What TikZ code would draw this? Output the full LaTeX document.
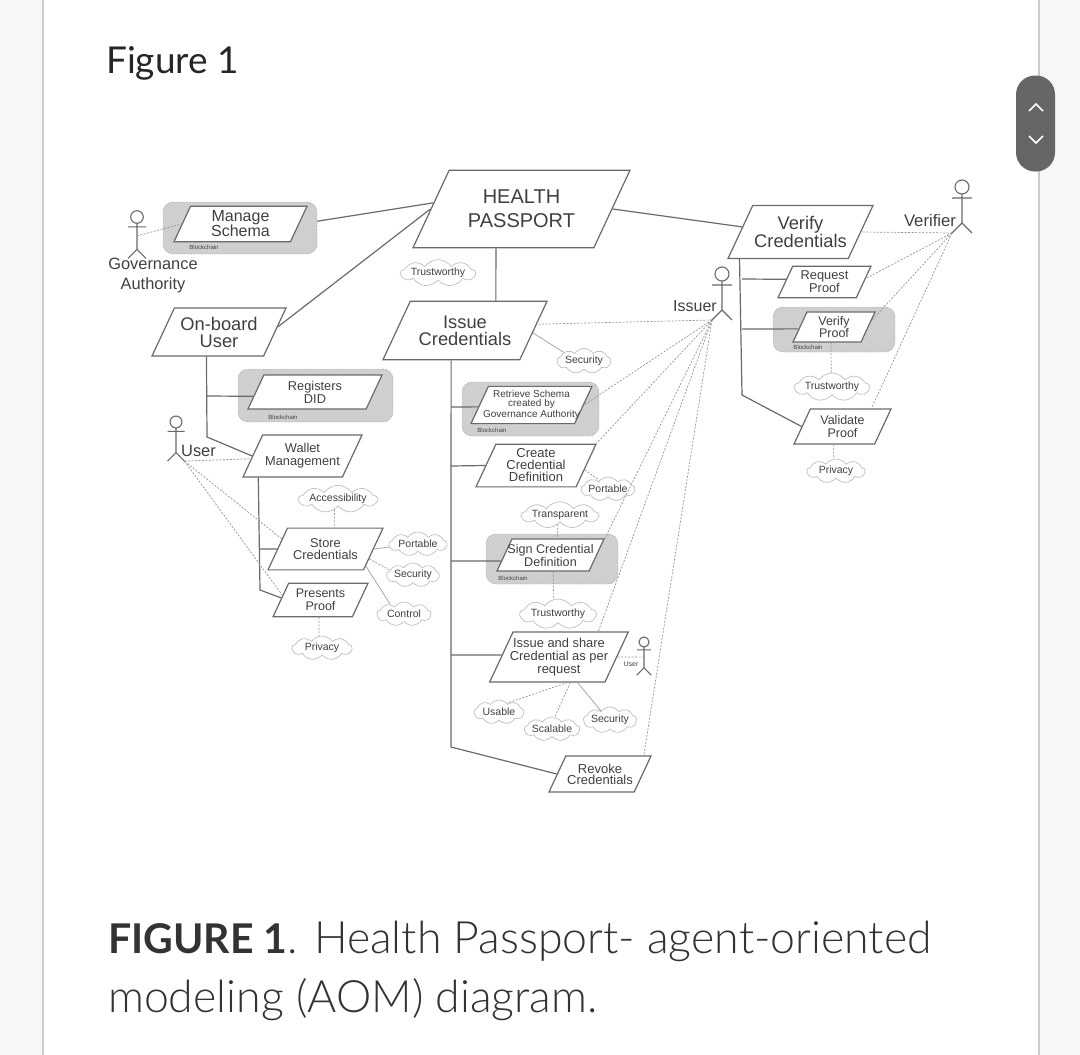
\documentclass[tikz,border=0pt]{standalone}
\usepackage{fontspec}
\usepackage{xcolor}
\usepackage{tikz}
\usetikzlibrary{positioning,shapes.geometric,shapes.symbols}
\setmainfont{Liberation Sans}
\newfontfamily\chromefont{Lato}
\newfontfamily\chromelight{Lato Light}
\definecolor{inkgray}{HTML}{404040}
\definecolor{linegray}{HTML}{6A6A6A}
\definecolor{chaingray}{HTML}{CFCFCF}
\definecolor{sidegray}{HTML}{F7F7F7}
\definecolor{pillgray}{HTML}{666666}
\newcommand{\fs}[2]{\fontsize{#1}{#2}\selectfont}

\begin{document}
\begin{tikzpicture}[
  x=1pt, y=-1pt,
  parabox/.style={draw=linegray, line width=1.2pt, fill=white, text=inkgray, trapezium,
                  trapezium left angle=65, trapezium right angle=115,
                  trapezium stretches body, inner sep=0pt, align=center, font=\fs{12.8}{13}},
  parabig/.style={parabox, font=\fs{18.3}{17}},
  chainbox/.style={draw=linegray, densely dotted, fill=chaingray, rounded corners=10pt},
  chainlabel/.style={inner sep=0pt, text=inkgray, font=\fs{6}{7}},
  softgoal/.style={draw=gray!50, line width=.7pt, fill=white, text=inkgray, cloud, cloud puffs=9,
                   cloud puff arc=110, cloud ignores aspect, inner sep=0pt, font=\fs{10.5}{11}},
  actorname/.style={inner sep=0pt, text=inkgray, align=center, font=\fs{16.4}{20}},
  solidline/.style={draw=linegray, line width=1.2pt},
  thinline/.style={draw=gray!70, line width=.8pt},
  dashline/.style={draw=gray!85, line width=.7pt, dash pattern=on 2pt off 1.5pt},
  actor/.pic={
    \draw[linegray, line width=1.1pt] (0,0) circle (7);
    \draw[linegray, line width=1.1pt] (0,7) -- (0,36) (-10,11) -- (10,11) (-10,46) -- (0,36) -- (10,46);
    \coordinate (-body) at (0,21);
    \coordinate (-lfoot) at (-10,46);
    \coordinate (-rfoot) at (10,46);
  }
]
\useasboundingbox (0,0) rectangle (1080,1055);
\fill[sidegray] (0,0) rectangle (43,1055);
\fill[sidegray] (1039,0) rectangle (1080,1055);
\draw[gray!40, line width=1.6pt] (43,0) -- (43,1055);
\draw[gray!40, line width=1.6pt] (1039,0) -- (1039,1055);

\node[inner sep=0pt, anchor=base west, text=black!85, font=\chromefont\fs{37}{40}] (title) at (106,73) {Figure 1};
\node[inner sep=0pt, anchor=base west, text=black!80, font=\chromelight\fs{44.6}{59}, align=left] (caption) at (108,1012)
  {{\chromefont\bfseries\fontsize{41}{59}\selectfont FIGURE 1}. Health Passport- agent-oriented\\modeling (AOM) diagram.};

\node[fill=pillgray, draw=none, rounded corners=19pt, minimum width=39pt, minimum height=96pt, inner sep=0pt] (pager) at (1035.5,123.5) {};
\draw[white, line width=1.6pt] (1029,111) -- (1036,104) -- (1043,111);
\draw[white, line width=1.6pt] (1029,136) -- (1036,143) -- (1043,136);

% blockchain panels
\node[chainbox, minimum width=154pt, minimum height=52pt] (manageBC) at (240,228) {};
\node[chainbox, minimum width=155pt, minimum height=53pt] (registersBC) at (315.5,395.5) {};
\node[chainbox, minimum width=137pt, minimum height=54pt] (retrieveBC) at (530.5,409) {};
\node[chainbox, minimum width=132pt, minimum height=50pt] (signBC) at (552,559) {};
\node[chainbox, minimum width=122pt, minimum height=45pt] (verproofBC) at (834,329.5) {};
\node[chainlabel] (manageTag) at (204,247.5) {Blockchain};
\node[chainlabel] (registersTag) at (283,417) {Blockchain};
\node[chainlabel] (retrieveTag) at (492,430) {Blockchain};
\node[chainlabel] (signTag) at (513,578) {Blockchain};
\node[chainlabel] (verproofTag) at (808,347) {Blockchain};

% goals
\node[parabox, font=\fs{20}{24}, minimum width=217pt, inner ysep=19.8pt] (health) at (521.5,209) {HEALTH\\PASSPORT};
\node[parabox, font=\fs{16}{15}, minimum width=133pt, inner ysep=4.65pt] (manage) at (240.5,224) {Manage\\Schema};
\node[parabig, minimum width=134pt, inner ysep=8.8pt] (onboard) at (219,332) {On-board\\User};
\node[parabox, minimum width=134pt, inner ysep=5.85pt] (registers) at (315,392) {Registers\\DID};
\node[parabox, minimum width=119pt, inner ysep=8.5pt] (wallet) at (302.5,456) {Wallet\\Management};
\node[parabox, font=\fs{12.8}{12}, minimum width=115pt, inner ysep=10.35pt] (store) at (325.5,549) {Store\\Credentials};
\node[parabox, font=\fs{12.5}{13}, minimum width=95pt, inner ysep=5.95pt] (presents) at (320.5,600) {Presents\\Proof};
\node[parabig, minimum width=164pt, inner ysep=14.3pt] (issue) at (465,330.5) {Issue\\Credentials};
\node[parabox, font=\fs{10}{9}, minimum width=121pt, inner ysep=4.3pt] (retrieve) at (531.5,405) {Retrieve Schema\\created by\\\makebox[85pt]{Governance Authority}};
\node[parabox, font=\fs{13}{12}, minimum width=120pt, inner ysep=4.75pt] (create) at (536,465.5) {Create\\Credential\\Definition};
\node[parabox, font=\fs{12.6}{13}, minimum width=107pt, inner ysep=4.9pt] (sign) at (550.5,555) {\makebox[75pt]{Sign Credential}\\Definition};
\node[parabox, font=\fs{12.9}{13}, minimum width=138pt, inner ysep=5.95pt] (share) at (559,657) {Issue and share\\\makebox[92pt]{Credential as per}\\request};
\node[parabox, font=\fs{13}{11}, minimum width=102pt, inner ysep=7.75pt] (revoke) at (600,774) {Revoke\\\makebox[64pt]{Credentials}};
\node[parabig, minimum width=145pt, inner ysep=10.8pt] (verify) at (800.5,232) {Verify\\Credentials};
\node[parabox, minimum width=93pt, inner ysep=4.85pt] (request) at (824.5,282) {Request\\Proof};
\node[parabox, font=\fs{12.5}{12}, minimum width=82pt, inner ysep=4.45pt] (verproof) at (834,327) {Verify\\Proof};
\node[parabox, font=\fs{12.5}{13}, minimum width=97pt, inner ysep=6.45pt] (validate) at (842.5,426.5) {Validate\\Proof};

% soft goals
\node[softgoal, minimum width=74pt, minimum height=25pt] (trustTop) at (438,273) {Trustworthy};
\node[softgoal, minimum width=72pt, minimum height=26pt] (access) at (338,499) {Accessibility};
\node[softgoal, minimum width=58pt, minimum height=24pt] (portStore) at (418,544) {Portable};
\node[softgoal, minimum width=52pt, minimum height=24pt] (secStore) at (413,575) {Security};
\node[softgoal, minimum width=54pt, minimum height=24pt] (control) at (404,614) {Control};
\node[softgoal, minimum width=60pt, minimum height=24pt] (privPresents) at (322,648) {Privacy};
\node[softgoal, minimum width=54pt, minimum height=25pt] (secIssue) at (584,361) {Security};
\node[softgoal, minimum width=52pt, minimum height=24pt] (portCreate) at (608,489) {Portable};
\node[softgoal, minimum width=74pt, minimum height=26pt] (transparent) at (560,515) {Transparent};
\node[softgoal, minimum width=76pt, minimum height=30pt] (trustSign) at (558,614) {Trustworthy};
\node[softgoal, minimum width=50pt, minimum height=24pt] (usable) at (499,712) {Usable};
\node[softgoal, minimum width=50pt, minimum height=24pt] (scalable) at (552,729) {Scalable};
\node[softgoal, minimum width=52pt, minimum height=26pt] (secShare) at (610,720) {Security};
\node[softgoal, minimum width=71pt, minimum height=28pt] (trustVerify) at (832,387) {Trustworthy};
\node[softgoal, minimum width=58pt, minimum height=24pt] (privValidate) at (836,471) {Privacy};

% actors
\pic (gov) [scale=.9] at (137,217) {actor};
\pic (user) [scale=.85] at (176,422) {actor};
\pic (issuer) at (722,274) {actor};
\pic (verifier) at (962,187) {actor};
\pic (usersm) [scale=.72] at (644,642) {actor};
\node[actorname] (govName) at (153,275) {Governance\\Authority};
\node[actorname] (userName) at (198.5,451) {User};
\node[actorname, font=\fs{16}{20}] (issuerName) at (695,306) {Issuer};
\node[actorname, font=\fs{16.7}{20}] (verifierName) at (930,221) {Verifier};
\node[actorname, font=\fs{7}{8}] (usersmName) at (631,664) {User};

% junction points
\coordinate (onboardJoin) at (207,396);
\coordinate (onboardBend) at (207,437);
\coordinate (walletJoin) at (260,549);
\coordinate (walletBend) at (260,590);
\coordinate (issueJoinA) at (451,407);
\coordinate (issueJoinB) at (451,466);
\coordinate (issueJoinC) at (451,561);
\coordinate (issueJoinD) at (451,655);
\coordinate (issueBend) at (451,747);
\coordinate (verifyJoinA) at (742,279);
\coordinate (verifyJoinB) at (742,329);
\coordinate (verifyBend) at (742,395);

% solid links
\draw[solidline] (manageBC.5)--(health.176);
\draw[solidline] (onboard.5)--(health.west);
\draw[solidline] (health.237)--(issue.44);
\draw[solidline] (health.east)--(verify.175);
\draw[solidline] (onboard.243)--(onboardBend)--(wallet.west);
\draw[solidline] (onboardJoin)--(registers.184);
\draw[solidline] (wallet.206)--(walletBend)--(presents.177);
\draw[solidline] (walletJoin)--(store.west);
\draw[solidline] (issue.245)--(issueBend)--(revoke.west);
\draw[solidline] (issueJoinA)--(retrieve.182);
\draw[solidline] (issueJoinB)--(create.west);
\draw[solidline] (issueJoinC)--(sign.187);
\draw[solidline] (issueJoinD)--(share.178);
\draw[solidline] (verify.204)--(verifyBend)--(validate.west);
\draw[solidline] (verifyJoinA)--(request.176);
\draw[solidline] (verifyJoinB)--(verproof.183);

% actor links
\draw[dashline] (gov-body)--(manage.west);
\draw[dashline] (user-rfoot)--(wallet.183);
\draw[dashline] (user-rfoot)--(store.167);
\draw[dashline] (user-rfoot)--(presents.173);
\draw[dashline] (issuer-lfoot)--(issue.5);
\draw[dashline] (issuer-lfoot)--(retrieve.east);
\draw[dashline] (issuer-lfoot)--(create.20);
\draw[dashline] (issuer-lfoot)--(sign.17);
\draw[dashline] (issuer-lfoot)--(share.33);
\draw[dashline] (issuer-lfoot)--(revoke.23);
\draw[dashline] (usersm-body)--(share.east);
\draw[dashline] (verifier-lfoot)--(verify.east);
\draw[dashline] (verifier-lfoot)--(request.5);
\draw[dashline] (verifier-lfoot)--(verproof.10);
\draw[dashline] (verifier-lfoot)--(validate.32);

% soft goal links
\draw[dashline] (access.252)--(store.68);
\draw[thinline] (store.east)--(portStore.186);
\draw[dashline] (store.347)--(secStore.168);
\draw[thinline] (store.337)--(control.145);
\draw[dashline] (presents.265)--(privPresents.104);
\draw[thinline] (issue.358)--(secIssue.157);
\draw[dashline] (create.355)--(portCreate.135);
\draw[dashline] (transparent.257)--(sign.68);
\draw[dashline] (sign.279)--(trustSign.106);
\draw[dashline] (share.288)--(usable.48);
\draw[dashline] (share.294)--(scalable.77);
\draw[thinline] (share.306)--(secShare.135);
\draw[dashline] (verproof.259)--(trustVerify.93);
\draw[dashline] (validate.244)--(privValidate.100);
\end{tikzpicture}
\end{document}
